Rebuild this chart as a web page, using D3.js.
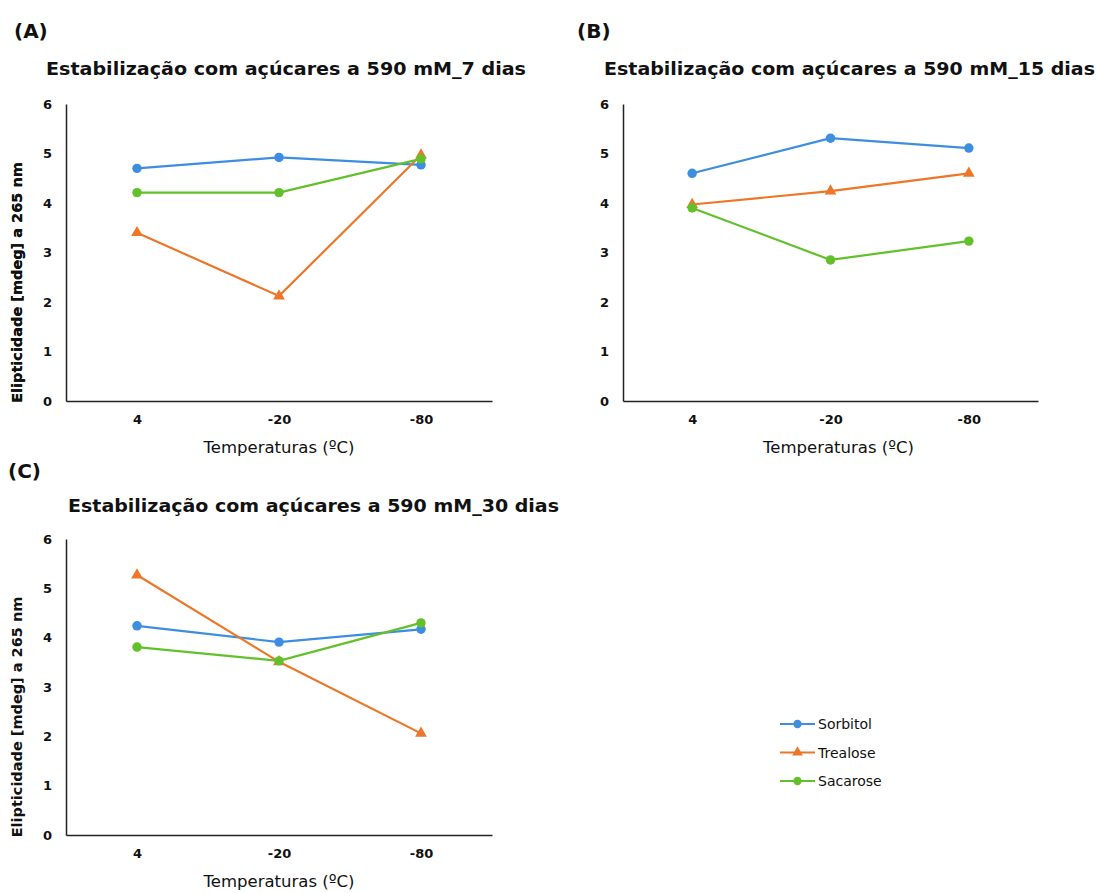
<!DOCTYPE html>
<html>
<head>
<meta charset="utf-8">
<script src="https://cdn.jsdelivr.net/npm/d3@7"></script>
<style>
  body { margin: 0; background: #fff; }
  text { font-family: "DejaVu Sans", Verdana, sans-serif; fill: #111; }
</style>
</head>
<body>
<div id="chart"></div>
<script>
// categories and values
var temperatures = ["4", "-20", "-80"];
var seriesNames = ["Sorbitol", "Trealose", "Sacarose"];
var seriesColors = ["#3d8ee0", "#ee7628", "#62c12a"];
var yTicks = [0, 1, 2, 3, 4, 5, 6];

var sorbitol7 = [4.70, 4.92, 4.77];
var trealose7 = [3.40, 2.12, 4.97];
var sacarose7 = [4.21, 4.21, 4.89];

var sorbitol15 = [4.60, 5.31, 5.11];
var trealose15 = [3.97, 4.24, 4.60];
var sacarose15 = [3.90, 2.85, 3.23];

var sorbitol30 = [4.24, 3.91, 4.17];
var trealose30 = [5.27, 3.51, 2.06];
var sacarose30 = [3.81, 3.53, 4.30];

var width = 1098, height = 893;

var svg = d3.select("#chart").append("svg")
    .attr("width", width)
    .attr("height", height);

var panels = [
  {letter: "(A)", title: "Estabilização com açúcares a 590 mM_7 dias",
   left: 66, top: 104, w: 426, h: 297, lx: 14, ly: 38, tx: 46, ty: 75, tw: 480, xl: 0,
   data: [sorbitol7, trealose7, sacarose7]},
  {letter: "(B)", title: "Estabilização com açúcares a 590 mM_15 dias",
   left: 623, top: 104, w: 415, h: 297, lx: 577, ly: 38, tx: 604, ty: 75, tw: 491, xl: 8,
   data: [sorbitol15, trealose15, sacarose15]},
  {letter: "(C)", title: "Estabilização com açúcares a 590 mM_30 dias",
   left: 66, top: 539, w: 426, h: 296, lx: 8, ly: 478, tx: 68, ty: 512, tw: 491, xl: 0,
   data: [sorbitol30, trealose30, sacarose30]}
];

panels.forEach(function(p) { draw_panel(p); });

function draw_panel(p) {
  svg.append("text")
    .attr("x", p.lx).attr("y", p.ly)
    .attr("font-size", "20px").attr("font-weight", "bold")
    .text(p.letter);

  svg.append("text")
    .attr("x", p.tx).attr("y", p.ty)
    .attr("font-size", "18px").attr("font-weight", "bold")
    .attr("textLength", p.tw).attr("lengthAdjust", "spacingAndGlyphs")
    .text(p.title);

  var g = svg.append("g").attr("transform", "translate(" + p.left + "," + p.top + ")");

  var x = d3.scalePoint().domain(temperatures).range([0, p.w]).padding(0.5);
  var y = d3.scaleLinear().domain([0, 6]).range([p.h, 0]);

  var yAxis = g.append("g")
    .call(d3.axisLeft(y).tickValues(yTicks).tickSize(0).tickPadding(14).tickFormat(d3.format("d")));
  yAxis.select(".domain").attr("stroke", "#222").attr("stroke-width", 1.5);
  yAxis.selectAll("text").attr("font-size", "13px").attr("font-weight", "bold");

  var xAxis = g.append("g")
    .attr("transform", "translate(0," + p.h + ")")
    .call(d3.axisBottom(x).tickSize(0).tickPadding(14));
  xAxis.select(".domain").attr("stroke", "#222").attr("stroke-width", 1.5);
  xAxis.selectAll("text").attr("font-size", "13px").attr("font-weight", "bold");

  g.append("text")
    .attr("x", p.w / 2 + p.xl).attr("y", p.h + 52)
    .attr("text-anchor", "middle")
    .attr("font-size", "16.5px")
    .text("Temperaturas (ºC)");

  g.append("text")
    .attr("transform", "translate(" + (-p.left + 22) + "," + (p.h / 2 + 30) + ") rotate(-90)")
    .attr("text-anchor", "middle")
    .attr("font-size", "14.5px").attr("font-weight", "bold")
    .text("Elipticidade [mdeg] a 265 nm");

  var line = d3.line()
    .x(function(d, i) { return x(temperatures[i]); })
    .y(function(d) { return y(d); });

  p.data.forEach(function(vals, si) {
    g.append("path")
      .datum(vals)
      .attr("d", line)
      .attr("fill", "none")
      .attr("stroke", seriesColors[si])
      .attr("stroke-width", 2.2);

    var sym = si == 1 ? d3.symbolTriangle : d3.symbolCircle;
    var size = si == 1 ? 60 : 70;
    g.selectAll(".m" + si).data(vals).enter().append("path")
      .attr("transform", function(d, i) { return "translate(" + x(temperatures[i]) + "," + y(d) + ")"; })
      .attr("d", d3.symbol().type(sym).size(size))
      .attr("fill", seriesColors[si]);
  });
}

// legend
var legend = svg.append("g").attr("transform", "translate(780,724)");
seriesNames.forEach(function(name, i) {
  var row = legend.append("g").attr("transform", "translate(0," + (i * 28.5) + ")");
  row.append("line")
    .attr("x1", 0).attr("x2", 35).attr("y1", 0).attr("y2", 0)
    .attr("stroke", seriesColors[i]).attr("stroke-width", 2.2);
  row.append("path")
    .attr("transform", "translate(17.5,0)")
    .attr("d", d3.symbol().type(i == 1 ? d3.symbolTriangle : d3.symbolCircle).size(i == 1 ? 50 : 55))
    .attr("fill", seriesColors[i]);
  row.append("text")
    .attr("x", 38).attr("y", 5)
    .attr("font-family", "Noto Sans")
    .attr("font-size", "14px")
    .text(name);
});
</script>
</body>
</html>
